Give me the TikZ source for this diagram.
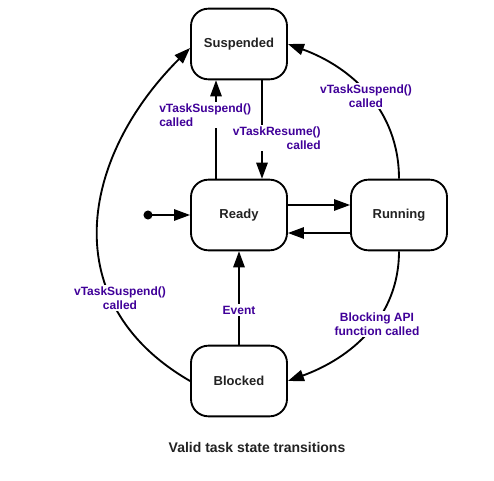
\documentclass[tikz,border=0pt]{standalone}
\usepackage{fontspec}
\setmainfont{Liberation Sans}
\usepackage{tikz}
\usetikzlibrary{calc,arrows.meta}
\definecolor{lblcol}{RGB}{64,0,153}
\definecolor{boxtxt}{RGB}{34,34,34}

\begin{document}
\begin{tikzpicture}[x=0.75pt,y=0.75pt,
  stbox/.style={draw,line width=1.4pt,rounded corners=13pt,minimum width=72pt,minimum height=53pt,
    font=\fontsize{9.75}{11}\selectfont\bfseries,text=boxtxt},
  trans/.style={line width=1.4pt,-{Triangle[length=12pt,width=8.5pt]}},
  lbl/.style={fill=white,inner sep=1.5pt,text=lblcol,font=\fontsize{9}{10.5}\selectfont\bfseries}]
\useasboundingbox (0,0) rectangle (494,480);

% States
\node[stbox] (susp) at (239,436) {Suspended};
\node[stbox] (ready) at (239,265) {Ready};
\node[stbox] (run) at (399,265) {Running};
\node[stbox] (blocked) at (239,99) {Blocked};
\fill (148,265) circle (3.4pt) coordinate (start);
\draw[trans] (start) -- (ready.west);

% Ready <-> Suspended
\draw[trans] ($(ready.north)+(-23,0)$) -- ($(susp.south)+(-23,0)$);
\node[lbl,anchor=west,align=left] (lsr) at (157,365) {vTaskSuspend()\\called};
\draw[trans] ($(susp.south)+(23,0)$) -- ($(ready.north)+(23,0)$);
\node[lbl,anchor=east,align=right] (lrs) at (323,342) {vTaskResume()\\called};

% Ready <-> Running
\draw[trans] ($(ready.east)+(0,10)$) -- ($(run.west)+(0,10)$);
\draw[trans] ($(run.west)+(0,-18)$) -- ($(ready.east)+(0,-18)$);

% Running -> Suspended, Running -> Blocked
\draw[trans] (run.north) to[out=90,in=-20] (susp.east);
\node[lbl,align=center] (lrunsusp) at (366,384) {vTaskSuspend()\\called};
\draw[trans] (run.south) to[out=-90,in=20] (blocked.east);
\node[lbl,align=center] (lblock) at (377,156) {Blocking API\\function called};

% Blocked -> Ready, Blocked -> Suspended
\draw[trans] (blocked.north) -- (ready.south);
\node[lbl] (levent) at (239,170) {Event};
\draw[trans] (blocked.west) to[out=150,in=225,looseness=1.2] ($(susp.west)+(0,-4)$);
\node[lbl,align=center] (lbsusp) at (120,182) {vTaskSuspend()\\called};

\node[text=boxtxt,font=\fontsize{10.5}{12}\selectfont\bfseries] (title) at (257,33) {Valid task state transitions};
\end{tikzpicture}
\end{document}
